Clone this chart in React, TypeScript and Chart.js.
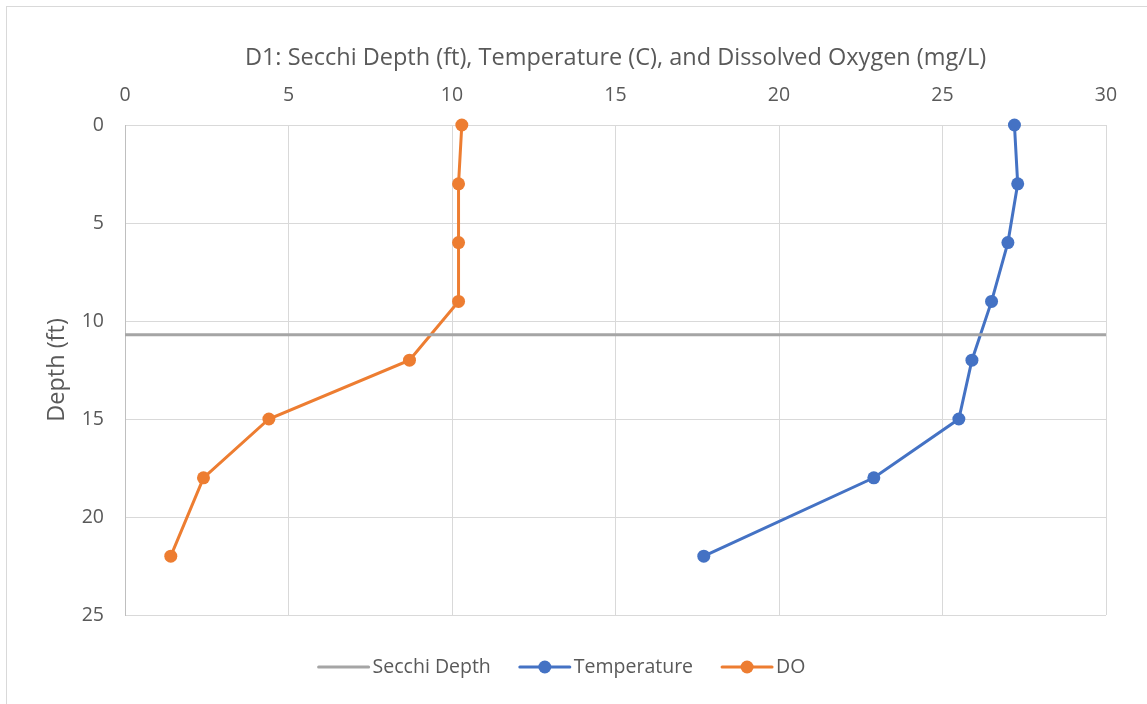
import React, { useEffect, useRef } from "react";
import { Chart, registerables } from "chart.js";

Chart.register(...registerables);

const depthTicks = [0, 5, 10, 15, 20, 25];
const xTicks = [0, 5, 10, 15, 20, 25, 30];
const depths = [0, 3, 6, 9, 12, 15, 18, 22];
const temperature = [27.2, 27.3, 27.0, 26.5, 25.9, 25.5, 22.9, 17.7];
const dissolvedOxygen = [10.3, 10.2, 10.2, 10.2, 8.7, 4.4, 2.4, 1.4];
const secchiDepth = 10.7;
const secchiX = [0, 30];

const TITLE = "D1: Secchi Depth (ft), Temperature (C), and Dissolved Oxygen (mg/L)";
const FONT = "'Open Sans', 'Noto Sans', sans-serif";
const TEXT = "#595959";

const customPlugin = {
  id: "customText",
  afterDraw(chart: any) {
    const ctx = chart.ctx;
    const area = chart.chartArea;
    ctx.save();
    ctx.fillStyle = TEXT;
    ctx.font = `23.5px ${FONT}`;
    ctx.textAlign = "center";
    ctx.textBaseline = "middle";
    ctx.fillText(TITLE, (area.left + area.right) / 2, 58);
    // y title
    ctx.save();
    ctx.translate(57, (area.top + area.bottom) / 2);
    ctx.rotate(-Math.PI / 2);
    ctx.fillText("Depth (ft)", 0, 0);
    ctx.restore();
    // legend
    ctx.font = `19.5px ${FONT}`;
    ctx.textAlign = "left";
    const y = 667;
    const items = chart.data.datasets.map((d: any) => ({
      label: d.label,
      color: d.borderColor,
      point: d.pointRadius > 0,
    }));
    const lineLen = 50;
    const gapText = 4;
    const gapItem = 29;
    const widths = items.map((it: any) => lineLen + gapText + ctx.measureText(it.label).width);
    const total = widths.reduce((a: number, b: number) => a + b, 0) + gapItem * (items.length - 1);
    let x = 562 - total / 2;
    items.forEach((it: any, i: number) => {
      ctx.strokeStyle = it.color;
      ctx.lineWidth = 3;
      ctx.lineCap = "round";
      ctx.beginPath();
      ctx.moveTo(x, y);
      ctx.lineTo(x + lineLen, y);
      ctx.stroke();
      if (it.point) {
        ctx.fillStyle = it.color;
        ctx.beginPath();
        ctx.arc(x + lineLen / 2, y, 6.5, 0, Math.PI * 2);
        ctx.fill();
      }
      ctx.fillStyle = TEXT;
      ctx.fillText(it.label, x + lineLen + gapText, y);
      x += widths[i] + gapItem;
    });
    ctx.restore();
  },
};

export default function App() {
  const ref = useRef<HTMLCanvasElement | null>(null);
  useEffect(() => {
    if (!ref.current) return;
    const chart = new Chart(ref.current, {
      type: "scatter",
      data: {
        datasets: [
          {
            label: "Secchi Depth",
            data: secchiX.map((x) => ({ x, y: secchiDepth })),
            showLine: true,
            borderColor: "#A5A5A5",
            backgroundColor: "#A5A5A5",
            borderWidth: 3,
            pointRadius: 0,
            pointHoverRadius: 0,
            clip: false,
          },
          {
            label: "Temperature",
            data: depths.map((d, i) => ({ x: temperature[i], y: d })),
            showLine: true,
            borderColor: "#4472C4",
            backgroundColor: "#4472C4",
            borderWidth: 3,
            pointRadius: 6.5,
            pointBorderWidth: 0,
            clip: false,
          },
          {
            label: "DO",
            data: depths.map((d, i) => ({ x: dissolvedOxygen[i], y: d })),
            showLine: true,
            borderColor: "#ED7D31",
            backgroundColor: "#ED7D31",
            borderWidth: 3,
            pointRadius: 6.5,
            pointBorderWidth: 0,
            clip: false,
          },
        ],
      },
      options: {
        animation: false,
        responsive: false,
        layout: { padding: { left: 0, top: 0, right: 41, bottom: 89 } },
        plugins: { legend: { display: false }, title: { display: false }, tooltip: { enabled: false } },
        scales: {
          x: {
            type: "linear",
            position: "top",
            min: 0,
            max: 30,
            afterBuildTicks: (s: any) => {
              s.ticks = xTicks.map((v) => ({ value: v }));
            },
            afterFit: (s: any) => {
              s.height = 125;
            },
            ticks: { color: TEXT, font: { size: 19.5, family: FONT }, padding: 18 },
            grid: { color: "#D9D9D9", lineWidth: 1, drawTicks: false },
            border: { display: false },
          },
          y: {
            type: "linear",
            reverse: true,
            min: 0,
            max: 25,
            afterBuildTicks: (s: any) => {
              s.ticks = depthTicks.map((v) => ({ value: v }));
            },
            afterFit: (s: any) => {
              s.width = 125;
            },
            ticks: { color: TEXT, font: { size: 19.5, family: FONT }, padding: 21 },
            grid: { color: "#D9D9D9", lineWidth: 1, drawTicks: false },
            border: { display: true, color: "#BFBFBF", width: 1 },
          },
        },
      },
      plugins: [customPlugin],
    } as any);
    return () => chart.destroy();
  }, []);
  return (
    <div style={{ position: "absolute", left: 0, top: 0, width: 1147, height: 704, background: "#fff" }}>
      <div
        style={{
          position: "absolute",
          left: 6,
          top: 6,
          width: 1146,
          height: 704,
          border: "1px solid #D9D9D9",
          boxSizing: "border-box",
        }}
      />
      <canvas ref={ref} width={1147} height={704} style={{ position: "absolute", left: 0, top: 0 }} />
    </div>
  );
}
